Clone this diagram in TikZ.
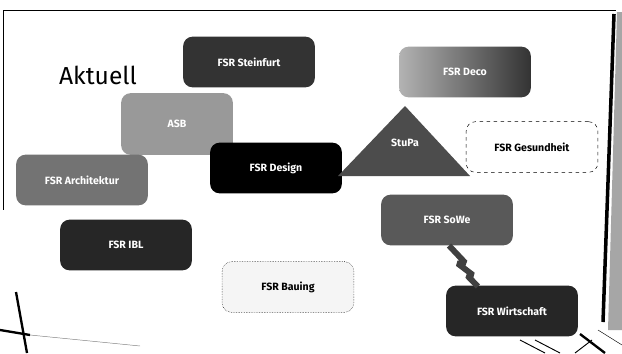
\documentclass[tikz,border=0pt]{standalone}
\usepackage{fontspec}
\setmainfont{Fira Sans}
\usepackage{tikz}
\usetikzlibrary{calc}
\usetikzlibrary{positioning}

\begin{document}
\begin{tikzpicture}[x=0.03cm,y=-0.03cm,
    fsr/.style={rounded corners=8pt,minimum width=3.95cm,minimum height=1.52cm,
      inner sep=0pt,text=white,font=\bfseries\small},
    hellfsr/.style={fsr,fill=white,text=black,draw=black,thin}]
  \useasboundingbox (0,0) rectangle (622,353);
  \fill[white] (0,0) rectangle (622,353);

  % frame of the screen
  \draw[black,thick] (3,10) -- (616,10);%top border
  \draw[black,thick] (3,10) -- (3,210);
  \draw[black,line width=3pt] (614,14) -- (603,322);
  \fill[gray!70] (617,12) -- (622,12) -- (622,330) -- (608,330) -- cycle;
  \draw[black,line width=2pt] (16,292) -- (27,353);
  \draw[black,line width=2pt] (0,330) -- (30,335);
  \draw[gray,thin] (30,335) -- (140,346);
  \draw[black,thick] (520,340) -- (545,353);
  \draw[black,thick] (535,340) -- (560,353);
  \draw[black,thick] (592,340) -- (575,353);
  \draw[black,line width=2pt] (580,334) -- (605,353);
  \draw[black,thin] (598,330) -- (622,345);

  \node[font=\fontsize{21}{25}\selectfont] (aktuell) at (98,75) {Aktuell};

  \node[fsr,fill=black!80] (steinfurt) at (249,62) {FSR Steinfurt};
  \node[fsr,fill=black!40,minimum width=3.35cm,minimum height=1.85cm] (asb) at (177,124) {ASB};
  \node[fsr,fill=black!55] (architektur) at (82,180) {FSR Architektur};
  \node[fsr,fill=black] (design) at (276,168) {FSR Design};
  \node[fsr,left color=black!30,right color=black!80] (deco) at (465,72) {FSR Deco};

  \coordinate (spitze) at (405,106);
  \coordinate (links) at (338,176);
  \coordinate (rechts) at (470,176);
  \fill[black!70] (spitze) -- (rechts) -- (links) -- cycle;
  \node[text=white,font=\bfseries\small] (stupa) at (405,143) {StuPa};

  \node[hellfsr,dashed] (gesundheit) at (532,147) {FSR Gesundheit};
  \node[fsr,fill=black!85] (ibl) at (126,245) {FSR IBL};
  \node[hellfsr,densely dotted,fill=black!4] (bauing) at (288,287) {FSR Bauing};
  \node[fsr,fill=black!65] (sowe) at (447,220) {FSR SoWe};
  \node[fsr,fill=black!85] (wirtschaft) at (512,311) {FSR Wirtschaft};

  % lightning between SoWe and Wirtschaft
  \coordinate (a) at ($(sowe.south)+(2,0)$);
  \coordinate (b) at ($(wirtschaft.north)+(-34,1)$);
  \draw[black!75,line width=5pt,miter limit=2]
    (a) -- ($(a)!0.42!(b)+(4,0)$) -- ($(a)!0.44!(b)+(-4,0)$)
    -- ($(a)!0.72!(b)+(3,0)$) -- ($(a)!0.74!(b)+(-3,0)$) -- (b);
\end{tikzpicture}
\end{document}
